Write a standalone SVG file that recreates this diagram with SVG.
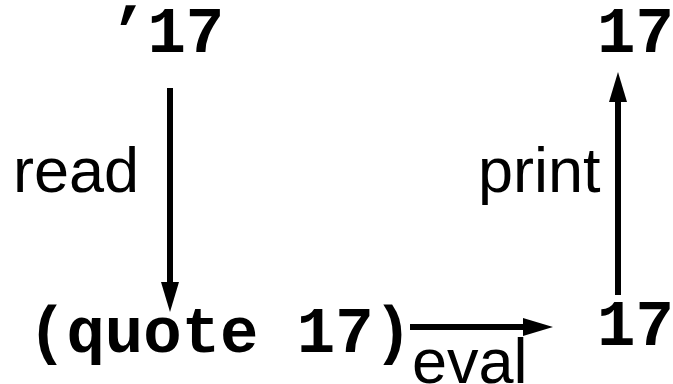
<svg xmlns="http://www.w3.org/2000/svg" width="673" height="384" viewBox="0 0 673 384">
  <style>
    .code { font-family: "Liberation Mono", "Courier New", monospace; font-weight: bold; font-size: 64px; fill: #000; }
    .label { font-family: "Liberation Sans", Arial, sans-serif; font-size: 63px; fill: #000; }
    .edge { stroke: #000; stroke-width: 6; fill: none; marker-end: url(#head); }
  </style>
  <defs>
    <marker id="head" markerUnits="userSpaceOnUse" markerWidth="30" markerHeight="18" refX="0" refY="9" orient="auto" overflow="visible">
      <path d="M0,0 L30,9 L0,18 Z" fill="#000"/>
    </marker>
  </defs>
  <rect width="673" height="384" fill="#fff"/>

  <g id="quoted-source">
    <text class="code" x="109" y="52">’17</text>
  </g>
  <g id="quote-form">
    <text class="code" x="28" y="352">(quote 17)</text>
  </g>
  <g id="value">
    <text class="code" x="597" y="345">17</text>
  </g>
  <g id="printed">
    <text class="code" x="597" y="52">17</text>
  </g>

  <g id="connectors">
    <line class="edge" x1="170" y1="88" x2="170" y2="282"/>
    <text class="label" x="13" y="192">read</text>
    <line class="edge" x1="410" y1="327" x2="523" y2="327"/>
    <text class="label" x="412" y="383">eval</text>
    <line class="edge" x1="618" y1="295" x2="618" y2="102"/>
    <text class="label" x="478" y="192">print</text>
  </g>
</svg>
